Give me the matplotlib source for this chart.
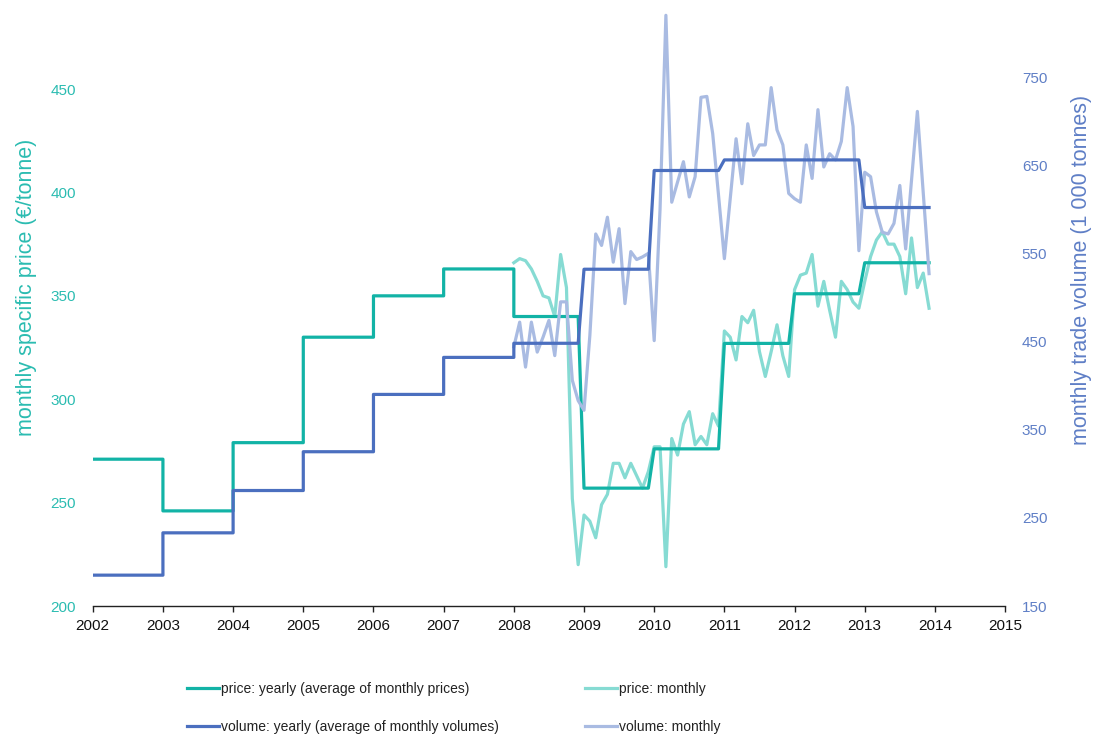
import numpy as np
import matplotlib
matplotlib.use("Agg")
import matplotlib.pyplot as plt

plt.rcParams['font.family'] = ['Liberation Sans', 'DejaVu Sans']

# yearly averages 2002-2013
years = list(range(2002, 2014))
price_yearly = [271, 246, 279, 330, 350, 363, 340, 257, 276, 327, 351, 366]
volume_yearly = [185, 233, 281, 325, 390, 432, 448, 532, 644, 656, 656, 602]

# monthly values Jan 2008 - Dec 2013
price_monthly = [
    366, 368, 367, 363, 357, 350, 349, 340, 370, 354, 252, 220,
    244, 241, 233, 249, 254, 269, 269, 262, 269, 263, 257, 265,
    277, 277, 219, 281, 273, 288, 294, 278, 282, 278, 293, 287,
    333, 330, 319, 340, 337, 343, 323, 311, 323, 336, 321, 311,
    353, 360, 361, 370, 345, 357, 343, 330, 357, 353, 347, 344,
    357, 369, 377, 381, 375, 375, 369, 351, 378, 354, 361, 344,
]
volume_monthly = [
    444, 472, 421, 472, 438, 455, 474, 434, 495, 495, 406, 383,
    372, 457, 572, 559, 591, 540, 578, 493, 552, 543, 546, 550,
    451, 600, 820, 608, 631, 654, 614, 637, 727, 728, 686, 616,
    544, 612, 680, 629, 697, 661, 673, 673, 738, 690, 673, 618,
    612, 608, 673, 635, 713, 648, 663, 656, 677, 738, 694, 553,
    642, 637, 597, 574, 572, 584, 627, 555, 633, 711, 619, 527,
]

x_ticks = list(range(2002, 2016))
price_ticks = [200, 250, 300, 350, 400, 450]
volume_ticks = [150, 250, 350, 450, 550, 650, 750]

c_price = '#12b3a6'
c_price_m = '#86dbd3'
c_vol = '#4b6fbf'
c_vol_m = '#a9bbe2'
c_price_txt = '#2bbcb1'
c_vol_txt = '#5f7fc6'

months = 2008 + np.arange(len(price_monthly)) / 12


def yearly_path(vals):
    # annual steps before 2008, then the yearly value repeated on the monthly grid
    early = [v for y, v in zip(years, vals) if y < 2008]
    late = [v for y, v in zip(years, vals) if y >= 2008]
    edges = np.arange(2002, 2009)
    xs = np.repeat(edges, 2)[1:-1]
    ys = np.repeat(early, 2)
    xs = np.concatenate([xs, months])
    ys = np.concatenate([ys, np.repeat(late, 12)])
    return xs, ys


fig = plt.figure(figsize=(10.95, 7.35), dpi=100)
ax = fig.add_axes([0.0847, 0.1755, 0.8332, 0.844])
ax2 = ax.twinx()

px, py = yearly_path(price_yearly)
vx, vy = yearly_path(volume_yearly)

l2, = ax.plot(months, price_monthly, color=c_price_m, lw=2.3, solid_joinstyle='round')
l1, = ax.plot(px, py, color=c_price, lw=2.3)
l4, = ax2.plot(months, volume_monthly, color=c_vol_m, lw=2.3, solid_joinstyle='round')
l3, = ax2.plot(vx, vy, color=c_vol, lw=2.3)

ax.set_xlim(2002, 2015)
ax.set_ylim(200, 500)
ax2.set_ylim(150, 150 + 300 * 2.068 / 0.8817)

ax.set_xticks(x_ticks)
ax.set_yticks(price_ticks)
ax2.set_yticks(volume_ticks)

for a in (ax, ax2):
    for s in ('top', 'left', 'right'):
        a.spines[s].set_visible(False)
ax2.spines['bottom'].set_visible(False)
ax.spines['bottom'].set_color('#222222')
ax.spines['bottom'].set_linewidth(1.0)

ax.tick_params(axis='x', direction='out', length=4, width=1, color='#222222',
               labelsize=11, labelcolor='#111111', pad=5)
ax.tick_params(axis='y', length=0, pad=12, labelsize=11, labelcolor=c_price_txt)
ax2.tick_params(axis='y', length=0, pad=12, labelsize=11, labelcolor=c_vol_txt)

ax.set_ylabel('monthly specific price (€/tonne)', color=c_price_txt, fontsize=15.5)
ax.yaxis.set_label_coords(-0.061, 0.514)
ax2.set_ylabel('monthly trade volume (1 000 tonnes)', color=c_vol_txt, fontsize=15.5)
ax2.yaxis.set_label_coords(1.0725, 0.5416)

fig.legend([l1, l3, l2, l4],
           ['price: yearly (average of monthly prices)',
            'volume: yearly (average of monthly volumes)',
            'price: monthly', 'volume: monthly'],
           ncol=2, loc='center left', bbox_to_anchor=(187 / 1095, 27 / 735),
           frameon=False, fontsize=10, handlelength=2.3, handletextpad=0.15,
           columnspacing=6.2, labelspacing=1.75, borderpad=0, borderaxespad=0,
           labelcolor='#222222')

fig.savefig('out.png', dpi=100)
